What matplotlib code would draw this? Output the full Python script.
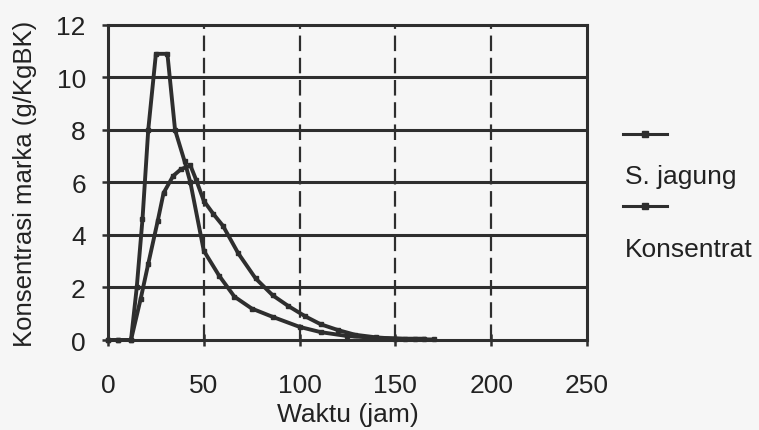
"""Recreate the marker concentration vs time chart (S. jagung vs Konsentrat)."""

import matplotlib.pyplot as plt
from matplotlib.lines import Line2D

plt.rcParams["font.family"] = ["Liberation Sans", "DejaVu Sans"]

# S. jagung series
jagung_t = [0, 5, 12, 15, 18, 21, 25, 31, 35, 40, 43, 50, 58, 66, 75, 86,
            100, 111, 125, 140, 155, 165]
jagung_c = [0, 0, 0, 2.0, 4.6, 8.0, 10.9, 10.9, 8.0, 6.8, 6.0, 3.4, 2.45,
            1.65, 1.2, 0.88, 0.5, 0.3, 0.15, 0.08, 0.05, 0.05]

# Konsentrat series
konsen_t = [0, 5, 12, 17, 21, 26, 29, 34, 38, 43, 46, 50, 55, 60, 68, 77,
            86, 94, 103, 111, 120, 129, 140, 150, 160, 170]
konsen_c = [0, 0, 0, 1.55, 2.9, 4.55, 5.6, 6.25, 6.5, 6.65, 6.1, 5.3, 4.8,
            4.35, 3.3, 2.35, 1.7, 1.3, 0.9, 0.6, 0.38, 0.2, 0.1, 0.05, 0.03,
            0.02]

x_ticks = [0, 50, 100, 150, 200, 250]
y_ticks = [0, 2, 4, 6, 8, 10, 12]
labels = ["S. jagung", "Konsentrat"]

INK = "#2e2e2e"
TXT = "#222222"
BG = "#f6f6f6"


def main() -> None:
    fig = plt.figure(figsize=(7.59, 4.31), dpi=100, facecolor=BG)
    ax = fig.add_axes([0.1423, 0.2088, 0.631, 0.731], facecolor=BG)

    ax.set_xlim(0, 250)
    ax.set_ylim(0, 12)
    ax.set_xticks(x_ticks)
    ax.set_yticks(y_ticks)

    # grid: solid horizontals, dashed verticals
    for y in y_ticks[1:-1]:
        ax.axhline(y, color=INK, lw=2.2, zorder=1)
    for x in x_ticks[1:-1]:
        ax.axvline(x, color=INK, lw=1.6, ls=(0, (7, 3)), zorder=1)

    style = dict(color=INK, lw=2.8, marker="s", ms=3.2, zorder=3,
                 clip_on=False)
    ax.plot(jagung_t, jagung_c, **style)
    ax.plot(konsen_t, konsen_c, **style)

    for s in ax.spines.values():
        s.set_color(INK)
        s.set_linewidth(2.2)
    ax.tick_params(direction="inout", length=8, width=1.8, color=INK,
                   labelcolor=TXT)
    ax.tick_params(axis="x", labelsize=19, pad=20)
    ax.tick_params(axis="y", labelsize=19, pad=12)

    ax.set_xlabel("Waktu (jam)", fontsize=19, color=TXT, labelpad=3)
    ax.set_ylabel("Konsentrasi marka (g/KgBK)", fontsize=18.5,
                  color=TXT, labelpad=14)

    # legend, handle drawn above each label
    hy = [1 - 135 / 431, 1 - 207 / 431]
    ty = [1 - 184 / 431, 1 - 257 / 431]
    for h, t, lab in zip(hy, ty, labels):
        fig.add_artist(Line2D([0.821, 0.879], [h, h], color=INK, lw=2.2,
                              transform=fig.transFigure))
        fig.add_artist(Line2D([0.850], [h], color=INK, marker="s", ms=4,
                              transform=fig.transFigure))
        fig.text(0.823, t, lab, fontsize=19, color=TXT,
                 ha="left", va="baseline")

    fig.savefig("out.png", dpi=100, facecolor=BG)


if __name__ == "__main__":
    main()
